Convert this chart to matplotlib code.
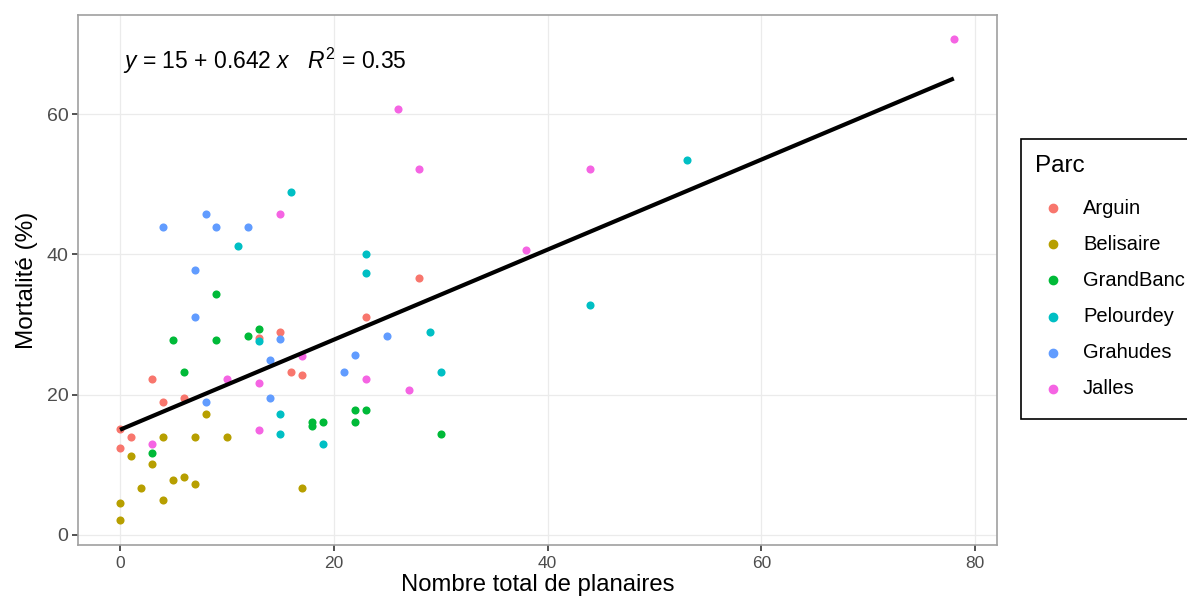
import matplotlib
matplotlib.use("Agg")
import matplotlib.pyplot as plt
from matplotlib.lines import Line2D
from matplotlib.patches import Rectangle

plt.rcParams['font.family'] = ['Liberation Sans', 'DejaVu Sans']
plt.rcParams['mathtext.fontset'] = 'custom'
plt.rcParams['mathtext.rm'] = 'Liberation Sans'
plt.rcParams['mathtext.it'] = 'Liberation Sans:italic'

# data
parcs = ['Arguin', 'Belisaire', 'GrandBanc', 'Peulourdey', 'Grahudes', 'Jalles']
labels = ['Arguin', 'Belisaire', 'GrandBanc', 'Pelourdey', 'Grahudes', 'Jalles']
colors = ['#F8766D', '#B79F00', '#00BA38', '#00BFC4', '#619CFF', '#F564E3']

arguin_x = [0, 0, 1, 3, 4, 6, 13, 15, 16, 17, 23, 28]
arguin_y = [15.1, 12.4, 14.0, 22.2, 18.9, 19.5, 28.1, 28.9, 23.3, 22.8, 31.1, 36.7]

belisaire_x = [8, 4, 7, 10, 1, 3, 2, 5, 6, 7, 4, 0, 0, 17]
belisaire_y = [17.2, 14.0, 14.0, 14.0, 11.2, 10.1, 6.7, 7.8, 8.3, 7.3, 5.0, 4.5, 2.2, 6.7]

grandbanc_x = [6, 3, 9, 5, 9, 12, 13, 18, 18, 19, 22, 23, 22, 30]
grandbanc_y = [23.3, 11.7, 34.4, 27.8, 27.8, 28.4, 29.4, 16.1, 15.6, 16.1, 17.8, 17.8, 16.1, 14.4]

peulourdey_x = [11, 13, 16, 23, 23, 29, 30, 15, 15, 19, 53, 44]
peulourdey_y = [41.2, 27.7, 48.9, 40.1, 37.3, 28.9, 23.3, 17.2, 14.4, 12.9, 53.4, 32.8]

grahudes_x = [4, 8, 9, 12, 7, 7, 14, 15, 8, 14, 25, 22, 21]
grahudes_y = [43.9, 45.7, 43.9, 43.9, 37.8, 31.1, 25.0, 27.9, 18.9, 19.5, 28.3, 25.7, 23.3]

jalles_x = [10, 13, 13, 3, 15, 17, 23, 27, 26, 28, 38, 44, 78]
jalles_y = [22.2, 21.7, 15.0, 12.9, 45.7, 25.5, 22.2, 20.6, 60.7, 52.2, 40.6, 52.2, 70.7]

xs = [arguin_x, belisaire_x, grandbanc_x, peulourdey_x, grahudes_x, jalles_x]
ys = [arguin_y, belisaire_y, grandbanc_y, peulourdey_y, grahudes_y, jalles_y]

intercept = 15
slope = 0.642
r2 = 0.35
fit_x = [0, 78]

W, H = 1187, 598
fig = plt.figure(figsize=(W / 100, H / 100), dpi=100)
ax = fig.add_axes([78 / W, 1 - 545 / H, (997 - 78) / W, (545 - 15) / H])

for x, y, c in zip(xs, ys, colors):
    ax.scatter(x, y, s=34, color=c, linewidths=0, zorder=3)

ax.plot(fit_x, [intercept + slope * v for v in fit_x], color='black', lw=3, zorder=4,
        solid_capstyle='butt')

ax.text(0.3, 67.6, r"$y$ = 15 + 0.642 $x$   $R^2$ = 0.35", fontsize=16.5, va='center', ha='left')

ax.set_xlim(-3.93, 82.04)
ax.set_ylim(-1.43, 74.13)
ax.set_xticks([0, 20, 40, 60, 80])
ax.set_yticks([0, 20, 40, 60])
ax.grid(True, color='#EBEBEB', lw=0.9, zorder=0)
ax.set_axisbelow(True)
for sp in ax.spines.values():
    sp.set_color('#A0A0A0')
    sp.set_linewidth(1.2)
ax.tick_params(colors='#333333', labelcolor='#4D4D4D', length=4, width=1.2)
ax.tick_params(axis='x', labelsize=12.5, pad=4)
ax.tick_params(axis='y', labelsize=14, pad=3)
ax.set_xlabel('Nombre total de planaires', fontsize=17.2, labelpad=2)
ax.set_ylabel('Mortalité (%)', fontsize=17.5, labelpad=6)

# legend drawn by hand, in figure pixels
def fx(px):
    return px / W

def fy(py):
    return 1 - py / H

fig.patches.append(Rectangle((fx(1021), fy(419)), fx(1200) - fx(1021), fy(139) - fy(419),
                             transform=fig.transFigure, facecolor='white',
                             edgecolor='black', lw=1.2))
fig.text(fx(1035), fy(166), 'Parc', fontsize=17.5, va='center', ha='left')
for i, (lab, c) in enumerate(zip(labels, colors)):
    yy = 208 + 36.2 * i
    fig.add_artist(Line2D([fx(1053)], [fy(yy)], marker='o', ls='', color=c, markersize=6,
                          transform=fig.transFigure))
    fig.text(fx(1083), fy(yy), lab, fontsize=14.5, va='center', ha='left')

fig.savefig('out.png', dpi=100)
